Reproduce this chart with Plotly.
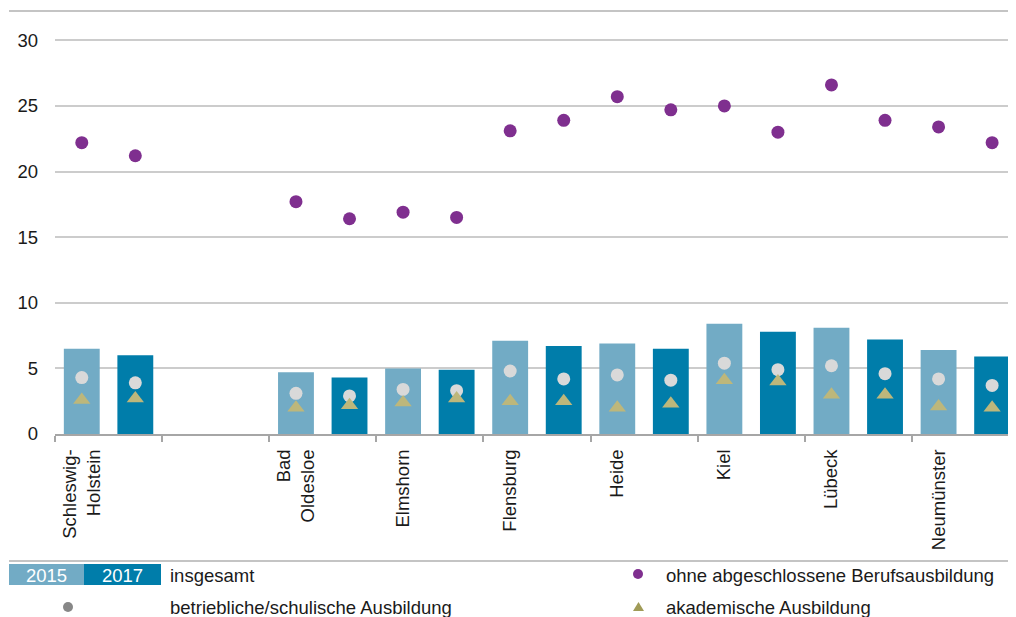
import plotly.graph_objects as go

# ---------------- data ----------------
regions = ["Schleswig-<br>Holstein", "Bad<br>Oldesloe", "Elmshorn", "Flensburg",
           "Heide", "Kiel", "Lübeck", "Neumünster"]
group_slot = [0, 2, 3, 4, 5, 6, 7, 8]   # group position (slot 1 left empty)

total_2015 = [6.5, 4.7, 5.0, 7.1, 6.9, 8.4, 8.1, 6.4]
total_2017 = [6.0, 4.3, 4.9, 6.7, 6.5, 7.8, 7.2, 5.9]
ohne_2015 = [22.2, 17.7, 16.9, 23.1, 25.7, 25.0, 26.6, 23.4]
ohne_2017 = [21.2, 16.4, 16.5, 23.9, 24.7, 23.0, 23.9, 22.2]
betr_2015 = [4.3, 3.1, 3.4, 4.8, 4.5, 5.4, 5.2, 4.2]
betr_2017 = [3.9, 2.9, 3.3, 4.2, 4.1, 4.9, 4.6, 3.7]
akad_2015 = [2.6, 2.0, 2.4, 2.5, 2.0, 4.1, 3.0, 2.1]
akad_2017 = [2.7, 2.2, 2.7, 2.5, 2.3, 4.0, 3.0, 2.0]

y_ticks = [0, 5, 10, 15, 20, 25, 30]

# ---------------- style ----------------
FONT = "Arial, Liberation Sans, sans-serif"
FS = 18.5
C15 = "#72ABC5"
C17 = "#007DAA"
PURPLE = "#7F2F8F"
GREY = "#D9D9D9"
OLIVE = "#BDB77B"
LEG_GREY = "#878787"
LEG_OLIVE = "#A09B57"
TXT = "#1A1A1A"

OX, OY = 8, 8            # page body margin
W, H = 1008, 609
L, R, T, B = 47, 0, 6, 183
PW = W - L - R
PH = H - T - B
SLOT = 53.55

x15 = [2 * g for g in group_slot]
x17 = [2 * g + 1 for g in group_slot]

fig = go.Figure()
fig.add_trace(go.Bar(x=x15, y=total_2015, width=0.67, marker=dict(color=C15, line_width=0),
                     showlegend=False))
fig.add_trace(go.Bar(x=x17, y=total_2017, width=0.67, marker=dict(color=C17, line_width=0),
                     showlegend=False))
for xs, ys, col, sym, sz in [
    (x15, ohne_2015, PURPLE, "circle", 13), (x17, ohne_2017, PURPLE, "circle", 13),
    (x15, betr_2015, GREY, "circle", 13), (x17, betr_2017, GREY, "circle", 13),
    (x15, akad_2015, OLIVE, "triangle-up", 15), (x17, akad_2017, OLIVE, "triangle-up", 15),
]:
    fig.add_trace(go.Scatter(x=xs, y=ys, mode="markers",
                             marker=dict(color=col, size=sz, symbol=sym, line_width=0),
                             showlegend=False))

def px_x(p):
    return (p - OX - L) / PW

def px_y(p):
    return (H - B - (p - OY)) / PH

shapes = []
annotations = []
# top separator and legend separator
for yy in (11, 561):
    shapes.append(dict(type="line", xref="paper", yref="paper", x0=px_x(9), x1=px_x(1016),
                       y0=px_y(yy), y1=px_y(yy), line=dict(color="#C4C4C4", width=2)))
# legend boxes
for (x0, x1, col, lab) in [(9, 84, C15, "2015"), (84, 161, C17, "2017")]:
    shapes.append(dict(type="rect", xref="paper", yref="paper", x0=px_x(x0), x1=px_x(x1),
                       y0=px_y(585), y1=px_y(564), fillcolor=col, line_width=0))
    annotations.append(dict(xref="paper", yref="paper", x=px_x((x0 + x1) / 2), y=px_y(575),
                            text=lab, showarrow=False, xanchor="center", yanchor="middle",
                            font=dict(family=FONT, size=FS, color="white")))
# legend dots
shapes.append(dict(type="circle", xref="paper", yref="paper", x0=px_x(633), x1=px_x(643),
                   y0=px_y(579), y1=px_y(569), fillcolor=PURPLE, line_width=0))
shapes.append(dict(type="circle", xref="paper", yref="paper", x0=px_x(63), x1=px_x(73),
                   y0=px_y(612), y1=px_y(602), fillcolor=LEG_GREY, line_width=0))
# legend triangle
tx0, tx1, ttop, tbot = px_x(633), px_x(644), px_y(602), px_y(611)
shapes.append(dict(type="path", xref="paper", yref="paper",
                   path=f"M {tx0} {tbot} L {tx1} {tbot} L {(tx0 + tx1) / 2} {ttop} Z",
                   fillcolor=LEG_OLIVE, line_width=0))
for (xx, yy, txt) in [(168, 575, "insgesamt"),
                      (664, 575, "ohne abgeschlossene Berufsausbildung"),
                      (168, 607, "betriebliche/schulische Ausbildung"),
                      (664, 607, "akademische Ausbildung")]:
    annotations.append(dict(xref="paper", yref="paper", x=px_x(xx), y=px_y(yy), text=txt,
                            showarrow=False, xanchor="left", yanchor="middle",
                            font=dict(family=FONT, size=FS, color=TXT)))

fig.update_layout(
    width=W, height=H,
    margin=dict(l=L, r=R, t=T, b=B, pad=0),
    paper_bgcolor="white", plot_bgcolor="white",
    barmode="overlay",
    showlegend=False,
    font=dict(family=FONT, size=FS, color=TXT),
    shapes=shapes, annotations=annotations,
    xaxis=dict(
        range=[-0.5, -0.5 + PW / SLOT],
        tickmode="array", tickvals=[2 * g for g in group_slot], ticktext=regions,
        tickangle=-90, ticks="", showgrid=False, zeroline=False,
        showline=True, linecolor="#A6A6A6", linewidth=2,
        tickfont=dict(family=FONT, size=FS, color=TXT),
        ticklabelstandoff=6,
        minor=dict(tickmode="array", tickvals=[-0.5 + 2 * k for k in range(10)],
                   ticks="outside", ticklen=6, tickwidth=1.5, tickcolor="#A6A6A6",
                   showgrid=False),
    ),
    yaxis=dict(
        range=[0, 32], tickmode="array", tickvals=y_ticks,
        showgrid=True, gridcolor="#CCCCCC", gridwidth=1.5, zeroline=False,
        showline=False, ticks="",
        tickfont=dict(family=FONT, size=FS, color=TXT),
        ticklabelstandoff=16,
    ),
)

fig.write_html("out.html")
